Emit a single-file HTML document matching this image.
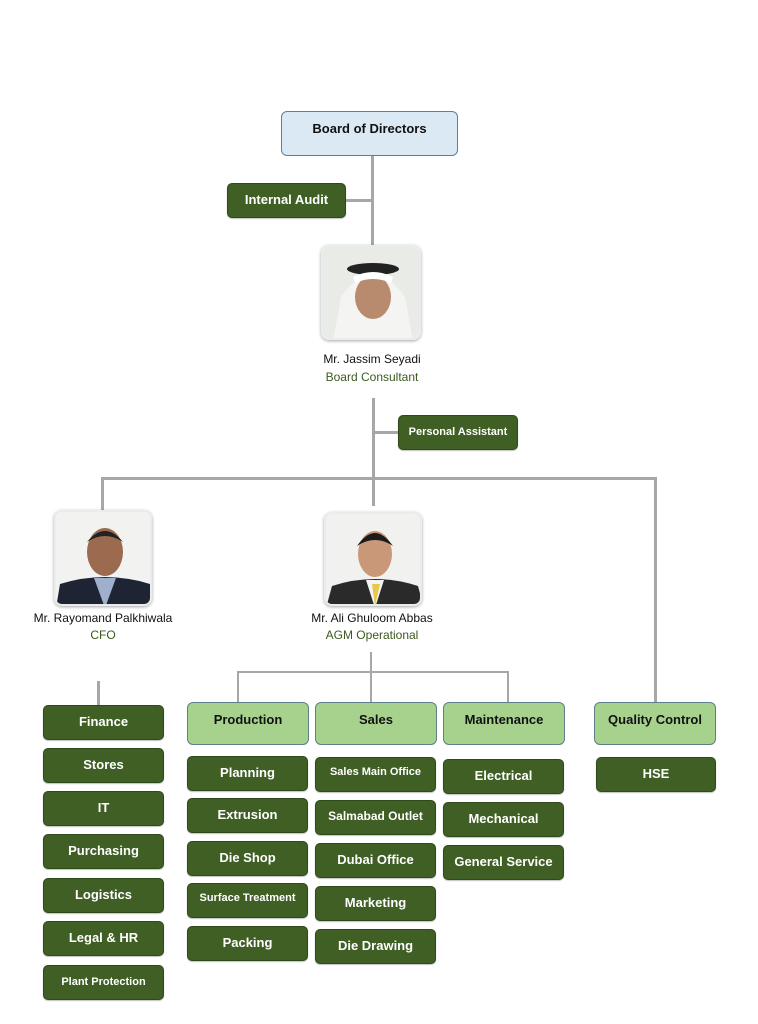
<!DOCTYPE html>
<html><head><meta charset="utf-8"><style>
*{margin:0;padding:0;box-sizing:border-box}
body{width:758px;height:1024px;background:#fff;position:relative;overflow:hidden;font-family:"Liberation Sans",sans-serif}
.b{position:absolute;background:#3f5f25;border:1.5px solid #2e4a1b;border-radius:5px;color:#fff;font-weight:bold;font-size:13px;text-align:center;padding-top:8px;box-shadow:0 1px 1px rgba(0,0,0,.25)}
.s{font-size:11px;padding-top:10px}
.h{position:absolute;background:#a6d28e;border:1.5px solid #5d7f8a;border-radius:6px;color:#111;font-weight:bold;font-size:13px;text-align:center;padding-top:9px}
.l{position:absolute;background:#a7a7a7}
.t{position:absolute;text-align:center;font-size:12px;color:#111;white-space:nowrap}
.g{color:#3b5a1e}
.p{position:absolute;border-radius:8px;overflow:hidden;box-shadow:0 1px 3px rgba(0,0,0,.35);border:2px solid #e8ecec}
</style></head><body>
<!-- lines -->
<div class="l" style="left:371px;top:156px;width:3px;height:89px"></div>
<div class="l" style="left:346px;top:199px;width:27px;height:3px"></div>
<div class="l" style="left:372px;top:398px;width:3px;height:108px"></div>
<div class="l" style="left:373px;top:431px;width:26px;height:3px"></div>
<div class="l" style="left:101px;top:477px;width:556px;height:3px"></div>
<div class="l" style="left:101px;top:477px;width:3px;height:35px"></div>
<div class="l" style="left:654px;top:477px;width:3px;height:226px"></div>
<div class="l" style="left:97px;top:681px;width:3px;height:24px"></div>
<div class="l" style="left:370px;top:652px;width:2px;height:50px"></div>
<div class="l" style="left:237px;top:671px;width:272px;height:2px"></div>
<div class="l" style="left:237px;top:671px;width:2px;height:31px"></div>
<div class="l" style="left:507px;top:671px;width:2px;height:31px"></div>

<div style="position:absolute;left:281px;top:111px;width:177px;height:45px;background:#dbe9f5;border:1.5px solid #5a7fa5;border-radius:6px;text-align:center;font-weight:bold;font-size:13px;padding-top:9px;color:#111">Board of Directors</div>
<div class="b" style="left:227px;top:183px;width:119px;height:35px">Internal Audit</div>

<div class="p" style="left:321px;top:245px;width:100px;height:95px">
<svg width="100" height="95"><rect width="100" height="95" fill="#e9ece6"/><path d="M10 95 L18 50 Q50 5 82 50 L90 95Z" fill="#f4f4f2"/><ellipse cx="50" cy="22" rx="26" ry="6" fill="#222"/><ellipse cx="50" cy="50" rx="18" ry="22" fill="#b88a6e"/><path d="M30 30 Q50 20 70 30 L68 36 Q50 28 32 36Z" fill="#fff"/></svg></div>
<div class="t" style="left:300px;top:352px;width:144px">Mr. Jassim Seyadi</div>
<div class="t g" style="left:300px;top:370px;width:144px">Board Consultant</div>

<div class="b s" style="left:398px;top:415px;width:120px;height:35px">Personal Assistant</div>

<div class="p" style="left:54px;top:510px;width:98px;height:96px">
<svg width="98" height="96"><rect width="98" height="96" fill="#f2f3f1"/><path d="M0 96 L4 72 Q49 58 94 72 L98 96Z" fill="#1e2433"/><path d="M38 66 L49 96 L60 66Z" fill="#9fb0cc"/><ellipse cx="49" cy="40" rx="18" ry="24" fill="#9c6b4f"/><path d="M31 30 Q49 8 67 30 Q49 18 31 30Z" fill="#222"/></svg></div>
<div class="t" style="left:20px;top:611px;width:166px">Mr. Rayomand Palkhiwala</div>
<div class="t g" style="left:20px;top:628px;width:166px">CFO</div>

<div class="p" style="left:324px;top:512px;width:98px;height:94px">
<svg width="98" height="94"><rect width="98" height="94" fill="#f1f2f0"/><path d="M0 94 L6 72 Q49 58 92 72 L98 94Z" fill="#2a2a2a"/><path d="M40 66 L49 94 L58 66Z" fill="#f3f3f3"/><path d="M46 70 L49 92 L54 70Z" fill="#e6c84a"/><ellipse cx="49" cy="40" rx="17" ry="23" fill="#c99878"/><path d="M31 32 Q49 6 67 32 Q49 20 31 32Z" fill="#1c1c1c"/></svg></div>
<div class="t" style="left:290px;top:611px;width:164px">Mr. Ali Ghuloom Abbas</div>
<div class="t g" style="left:290px;top:628px;width:164px">AGM Operational</div>

<!-- CFO column -->
<div class="b" style="left:43px;top:705px;width:121px;height:35px">Finance</div>
<div class="b" style="left:43px;top:748px;width:121px;height:35px">Stores</div>
<div class="b" style="left:43px;top:791px;width:121px;height:35px">IT</div>
<div class="b" style="left:43px;top:834px;width:121px;height:35px">Purchasing</div>
<div class="b" style="left:43px;top:878px;width:121px;height:35px">Logistics</div>
<div class="b" style="left:43px;top:921px;width:121px;height:35px">Legal &amp; HR</div>
<div class="b s" style="left:43px;top:965px;width:121px;height:35px">Plant Protection</div>

<div class="h" style="left:187px;top:702px;width:122px;height:43px">Production</div>
<div class="h" style="left:315px;top:702px;width:122px;height:43px">Sales</div>
<div class="h" style="left:443px;top:702px;width:122px;height:43px">Maintenance</div>
<div class="h" style="left:594px;top:702px;width:122px;height:43px">Quality Control</div>

<div class="b" style="left:187px;top:756px;width:121px;height:35px">Planning</div>
<div class="b" style="left:187px;top:798px;width:121px;height:35px">Extrusion</div>
<div class="b" style="left:187px;top:841px;width:121px;height:35px">Die Shop</div>
<div class="b s" style="left:187px;top:883px;width:121px;height:35px;padding-top:8px">Surface Treatment</div>
<div class="b" style="left:187px;top:926px;width:121px;height:35px">Packing</div>

<div class="b s" style="left:315px;top:757px;width:121px;height:35px;padding-top:8px">Sales Main Office</div>
<div class="b" style="left:315px;top:800px;width:121px;height:35px;font-size:12px">Salmabad Outlet</div>
<div class="b" style="left:315px;top:843px;width:121px;height:35px">Dubai Office</div>
<div class="b" style="left:315px;top:886px;width:121px;height:35px">Marketing</div>
<div class="b" style="left:315px;top:929px;width:121px;height:35px">Die Drawing</div>

<div class="b" style="left:443px;top:759px;width:121px;height:35px">Electrical</div>
<div class="b" style="left:443px;top:802px;width:121px;height:35px">Mechanical</div>
<div class="b" style="left:443px;top:845px;width:121px;height:35px">General Service</div>

<div class="b" style="left:596px;top:757px;width:120px;height:35px">HSE</div>
</body></html>
